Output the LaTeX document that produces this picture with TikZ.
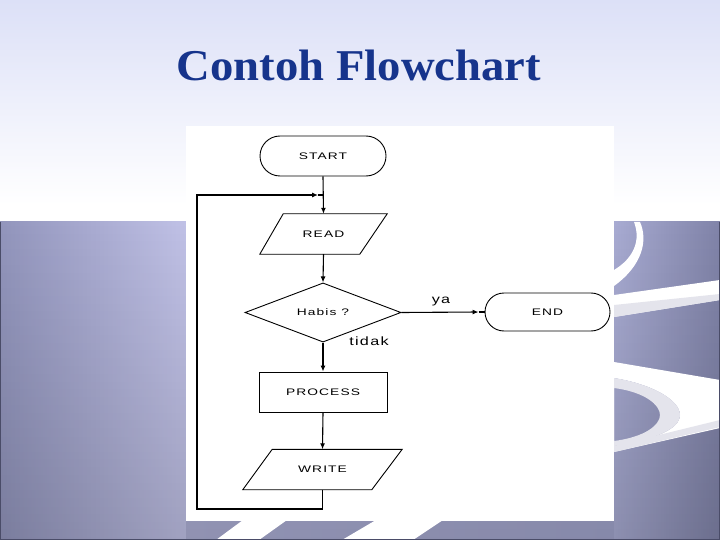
\documentclass[tikz,border=0pt]{standalone}
\usepackage{fontspec}
\usepackage{graphicx}
\setmainfont{Liberation Serif}
\newfontfamily\fcfont[LetterSpace=8]{Liberation Sans}
\newcommand{\widetxt}[1]{\scalebox{1.45}[1]{#1}}
\newcommand{\widelbl}[1]{\scalebox{1.35}[1]{#1}}
\usetikzlibrary{shapes.geometric,shapes.misc,arrows.meta,fadings}
\definecolor{titleblue}{RGB}{22,52,140}
\definecolor{toplav}{RGB}{220,224,247}
\definecolor{pa}{RGB}{146,149,188}
\definecolor{pb}{RGB}{192,193,230}
\definecolor{pc}{RGB}{172,174,212}
\definecolor{pd}{RGB}{160,163,202}
\definecolor{pe}{RGB}{168,171,210}
\definecolor{pf}{RGB}{128,131,168}
\definecolor{edgecol}{RGB}{74,76,104}
\definecolor{swgray}{RGB}{228,228,236}
\tikzset{
  fcline/.style={line width=1.1pt, draw=black},
  shapeline/.style={line width=0.9pt, draw=black},
  tip/.style={-{Latex[length=6pt,width=5pt]}},
  nodefont/.style={font=\fcfont\fontsize{9.5}{10}\selectfont},
  term/.style={rounded rectangle, shapeline, nodefont, inner sep=0pt, minimum height=40pt},
  iobox/.style={rectangle, draw=none, nodefont, inner sep=0pt, minimum height=40pt},
  procbox/.style={rectangle, shapeline, nodefont, inner sep=0pt, minimum width=128pt, minimum height=40pt},
  decbox/.style={diamond, shapeline, nodefont, inner sep=0pt, minimum width=156pt, minimum height=39pt},
  lbl/.style={font=\fcfont\fontsize{12}{12}\selectfont, inner sep=0pt},
  panelwhite/.style={fill=white, draw=none}
}
\begin{document}
\begin{tikzpicture}[x=1pt,y=-1pt]
\useasboundingbox (0,0) rectangle (720,540);
% top background
\shade[top color=toplav, bottom color=white] (0,0) rectangle (720,205);
\fill[white] (0,204) rectangle (720,223);
% purple background
\shade[left color=pa, right color=pb] (0,222) rectangle (186,540);
\shade[left color=pc, right color=pd] (186,222) rectangle (614,540);
\shade[left color=pe, right color=pf] (614,222) rectangle (720,540);
\fill[black, fill opacity=0.16, path fading=north] (0,222) rectangle (720,540);
% right side swooshes
\fill[white] (634,222) -- (640,222) .. controls (648,240) and (643,265) .. (614,286)
  -- (614,270) .. controls (634,258) and (641,240) .. (634,222) -- cycle;
\fill[white] (614,295) -- (720,280) -- (720,300) -- (614,317) -- cycle;
\fill[swgray] (614,305) -- (720,294) -- (720,300) -- (614,317) -- cycle;
\fill[white, even odd rule] (614,362) -- (720,380) -- (720,428) -- (614,452) -- cycle
  (614,378) .. controls (652,384) and (680,400) .. (680,415) .. controls (680,430) and (652,440) .. (614,446) -- cycle;
\fill[swgray, even odd rule]
  (614,378) .. controls (652,384) and (680,400) .. (680,415) .. controls (680,430) and (652,440) .. (614,446) -- cycle
  (614,388) .. controls (645,392) and (660,405) .. (660,415) .. controls (660,425) and (645,437) .. (614,441) -- cycle;
\fill[swgray] (614,446) -- (720,420) -- (720,427) -- (614,452) -- cycle;
% white panel and bottom stripes
\fill[panelwhite] (186,126) rectangle (614,521);
\fill[white] (243,520) -- (287,520) -- (259,540) -- (216,540) -- cycle;
\fill[white] (376,520) -- (443,520) -- (413,540) -- (342,540) -- cycle;
% frame edges
\draw[edgecol, line width=1.2pt] (0.6,222) -- (0.6,539.4) -- (719.4,539.4) -- (719.4,222);
% title
\node[font=\bfseries\fontsize{44}{44}\selectfont, text=titleblue, xscale=1.06, anchor=base] (title) at (359,81) {Contoh Flowchart};

% flowchart nodes
\node[term, minimum width=126pt] (start) at (323,156) {\widetxt{START}};
\node[iobox, minimum width=127pt] (read) at (323.5,234) {\widetxt{READ}};
\draw[shapeline] (read.south west) -- ++(100,0) -- (read.north east) -- ++(-104,0) -- cycle;
\node[decbox] (dec) at (323,312.5) {\widetxt{Habis ?}};
\node[term, minimum width=125pt, minimum height=38pt] (endn) at (547.5,312) {\widetxt{END}};
\node[procbox] (proc) at (323,392) {\widetxt{PROCESS}};
\node[iobox, minimum width=159pt] (write) at (322.5,469.5) {\widetxt{WRITE}};
\draw[shapeline] (write.south west) -- ++(129,0) -- (write.north east) -- ++(-130,0) -- cycle;

\coordinate (jn) at (323,195);
\coordinate (lb) at (197,509);

% connectors
\draw[fcline, tip] (start.south) -- (read.north);
\draw[fcline, tip] (read.south) -- (dec.north);
\draw[fcline, tip] (dec.south) -- (proc.north);
\draw[fcline, tip] (proc.south) -- (write.north);
\draw[fcline, tip] (dec.east) -- ([xshift=-6pt]endn.west);
\draw[fcline] ([xshift=-6pt]endn.west) -- (endn.west);
\draw[fcline, tip] (write.south) |- (lb) |- ([xshift=-5pt]jn);
\draw[fcline] ([xshift=-5pt]jn) -- (jn);

% labels
\node[lbl] (ya) at (441,302) {\widelbl{ya}};
\node[lbl] (tidak) at (369,341) {\widelbl{tidak}};
\end{tikzpicture}
\end{document}
